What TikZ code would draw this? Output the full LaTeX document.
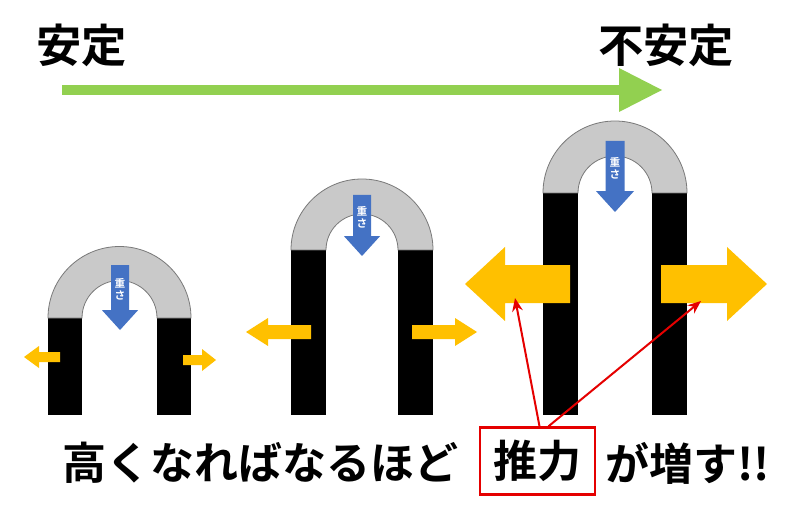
\documentclass[tikz,border=0pt]{standalone}
\usepackage{fontspec}
\usetikzlibrary{arrows.meta}
\newfontfamily\jp{Noto Sans CJK JP}[BoldFont={Noto Sans CJK JP Bold}]
\definecolor{grn}{HTML}{92D050}
\definecolor{blu}{HTML}{4472C4}
\definecolor{yel}{HTML}{FFC000}
\definecolor{gry}{HTML}{C9C9C9}
\newcommand{\myarch}[5]{% cx, cy(top of legs), R, r, bottom
  \fill[black] (#1-#3,#2) rectangle (#1-#4,#5);
  \fill[black] (#1+#4,#2) rectangle (#1+#3,#5);
  \draw[gry!60!black,fill=gry,line width=0.6pt] (#1-#3,#2) arc(180:360:#3) -- (#1+#4,#2) arc(0:-180:#4) -- cycle;}
\newcommand{\varrow}[4]{% x, ytop, ybottom, halfshaft
  \fill[blu] (#1-#4,#2) -- (#1+#4,#2) -- (#1+#4,#3-2.2*#4) -- (#1+2*#4,#3-2.2*#4) -- (#1,#3) -- (#1-2*#4,#3-2.2*#4) -- (#1-#4,#3-2.2*#4) -- cycle;
  \node[text=white,font=\jp\bfseries\fontsize{8}{9}\selectfont,align=center,inner sep=0pt] at (#1,{#2+(#3-2.2*#4-#2)/2+2}) {重\\さ};}
\newcommand{\harrow}[6]{% xtail, xtip, y, halfshaft, halfhead, headlen (signed)
  \fill[yel] (#1,#3-#4) -- (#2-#6,#3-#4) -- (#2-#6,#3-#5) -- (#2,#3) -- (#2-#6,#3+#5) -- (#2-#6,#3+#4) -- (#1,#3+#4) -- cycle;}
\begin{document}
\begin{tikzpicture}[x=0.75pt,y=-0.75pt,
  top/.style={font=\jp\bfseries\fontsize{34}{36}\selectfont,inner sep=0pt,anchor=west},
  big/.style={font=\jp\bfseries\fontsize{33}{36}\selectfont,inner sep=0pt,anchor=west},
  redarr/.style={red!90!black,line width=1.5pt,-{Stealth[length=10pt,width=8pt]}}]
\useasboundingbox (0,0) rectangle (800,524);
\fill[white] (0,0) rectangle (800,524);
\node[top] (a) at (36,45) {安定};
\node[top] (b) at (598,45) {不安定};
\fill[grn] (62,85) rectangle (621,95);
\fill[grn] (619,68) -- (662,90) -- (619,112) -- cycle;
\myarch{119.5}{318}{71.5}{37.5}{415}
\myarch{362}{250}{71}{36}{415}
\myarch{615}{193}{72}{37}{415}
\varrow{120}{265}{330}{9}
\varrow{362}{195}{256}{9}
\varrow{615}{141}{212}{9.5}
\harrow{60}{24}{357}{5}{11}{-15}
\harrow{183}{216}{360}{5}{11}{14}
\harrow{311}{246}{332}{7}{14}{-22}
\harrow{412}{477}{332}{7}{14}{22}
\harrow{570}{465}{284}{19}{37}{-40}
\harrow{661}{767}{284}{19}{37}{40}
\node[big] (t1) at (62,463) {高くなればなるほど};
\node[draw=red!90!black,line width=1.8pt,minimum width=115pt*0.75,minimum height=67pt*0.75,font=\jp\bfseries\fontsize{33}{36}\selectfont,inner sep=0pt] (box) at (537.5,461) {推力};
\node[big] (t2) at (605,463) {が増す!!};
\coordinate (p1) at (515,298);
\coordinate (p2) at (701,301);
\draw[redarr] (box.north) ++(2,0) -- (p1);
\draw[redarr] (box.north) ++(11,0) -- (p2);
\end{tikzpicture}
\end{document}
